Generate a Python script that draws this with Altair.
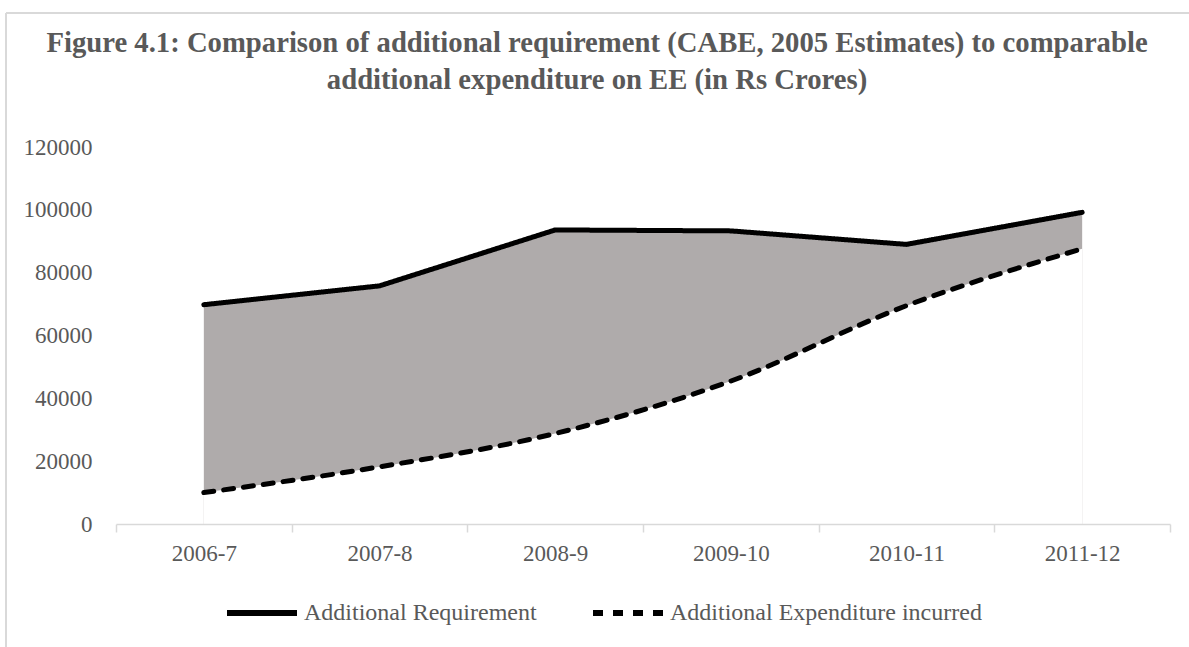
import altair as alt
import pandas as pd

years = ["2006-7", "2007-8", "2008-9", "2009-10", "2010-11", "2011-12"]
additional_requirement = [69800, 75800, 93600, 93300, 89000, 99200]
additional_expenditure = [10000, 18200, 28800, 45500, 69500, 87600]
series_names = ["Additional Requirement", "Additional Expenditure incurred"]

wide = pd.DataFrame({
    "year": years,
    "req": additional_requirement,
    "exp": additional_expenditure,
})
long = pd.concat([
    pd.DataFrame({"year": years, "value": additional_requirement, "series": series_names[0]}),
    pd.DataFrame({"year": years, "value": additional_expenditure, "series": series_names[1]}),
])

FONT = "Liberation Serif"
TXT = "#595959"

xenc = alt.X(
    "year:N", sort=years, bandPosition=0.5,
    scale=alt.Scale(type="band", paddingInner=0, paddingOuter=0),
    axis=alt.Axis(
        title=None, labelAngle=0, tickBand="extent", domainColor="#d9d9d9",
        tickColor="#d9d9d9", domainWidth=1.5, tickWidth=1.5, tickSize=8,
        labelPadding=10, labelFont=FONT, labelFontSize=23, labelColor=TXT,
        zindex=1,
    ),
)
yscale = alt.Scale(domain=[0, 120000])
yaxis = alt.Axis(
    title=None, values=[0, 20000, 40000, 60000, 80000, 100000, 120000],
    format="d", grid=False, domain=False, ticks=False, labelPadding=24,
    labelFont=FONT, labelFontSize=23, labelColor=TXT,
)

base = alt.Chart(wide)
gray_area = base.mark_area(color="#AFABAB", opacity=1).encode(
    x=xenc, y=alt.Y("req:Q", scale=yscale, axis=yaxis)
)
white_area = base.mark_area(color="white", opacity=1, interpolate="monotone").encode(
    x=xenc, y=alt.Y("exp:Q", scale=yscale)
)

dash_scale = alt.Scale(domain=series_names, range=[[1, 0], [10, 10]])
legend = alt.Legend(
    title=None, orient="none", direction="horizontal", legendX=108, legendY=428,
    symbolType="stroke", symbolSize=4900, symbolStrokeWidth=6,
    symbolStrokeColor="black", labelFont=FONT, labelFontSize=24, labelLimit=0,
    labelColor=TXT, columnPadding=44, labelOffset=4,
)

line_req = alt.Chart(long).transform_filter(
    alt.datum.series == series_names[0]
).mark_line(color="black", strokeWidth=5, strokeCap="round", strokeJoin="round").encode(
    x=xenc, y=alt.Y("value:Q", scale=yscale),
    strokeDash=alt.StrokeDash("series:N", scale=dash_scale, legend=legend),
)
line_exp = alt.Chart(long).transform_filter(
    alt.datum.series == series_names[1]
).mark_line(color="black", strokeWidth=5, strokeCap="round", interpolate="monotone").encode(
    x=xenc, y=alt.Y("value:Q", scale=yscale),
    strokeDash=alt.StrokeDash("series:N", scale=dash_scale, legend=legend),
)

frame_top = alt.Chart(wide).mark_rule(color="#d9d9d9", strokeWidth=2).encode(
    x=alt.value(-110), x2=alt.value(1080), y=alt.value(-134)
)
frame_left = alt.Chart(wide).mark_rule(color="#d9d9d9", strokeWidth=2).encode(
    x=alt.value(-110), y=alt.value(-134), y2=alt.value(510)
)

chart = alt.layer(
    frame_top, frame_left, gray_area, white_area, line_req, line_exp
).properties(
    width=1054, height=377,
    background="white",
    autosize=alt.AutoSizeParams(type="none"),
    padding={"left": 116, "top": 147, "right": 19, "bottom": 123},
    title=alt.Title(
        ["Figure 4.1: Comparison of additional requirement (CABE, 2005 Estimates) to comparable",
         "additional expenditure on EE (in Rs  Crores)"],
        font=FONT, fontSize=28.7, fontWeight="bold", color=TXT, anchor="middle",
        dx=-46, dy=83, offset=0, lineHeight=37,
    ),
).configure_view(strokeWidth=0, stroke="transparent")

chart.save("out.html", embed_options={"renderer": "svg", "actions": False})
